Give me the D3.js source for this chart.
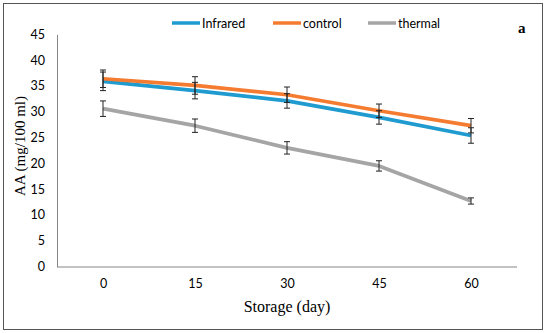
<!DOCTYPE html>
<html><head><meta charset="utf-8">
<script src="https://cdn.jsdelivr.net/npm/d3@7"></script>
<style>body{margin:0;background:#fff}svg{display:block}</style>
</head><body>
<script>
const days = ["0","15","30","45","60"];
const infrared = [35.9, 34.1, 32.1, 28.9, 25.4];
const control = [36.4, 35.1, 33.3, 30.2, 27.3];
const thermal = [30.6, 27.3, 23.0, 19.5, 12.7];
const infraredErr = [1.8, 1.6, 1.4, 1.3, 1.5];
const controlErr = [1.7, 1.7, 1.5, 1.3, 1.4];
const thermalErr = [1.5, 1.3, 1.2, 1.0, 0.6];
const yTicks = [0,5,10,15,20,25,30,35,40,45];
const seriesNames = ["Infrared","control","thermal"];
const colors = ["#1F9BD0","#F47B2F","#A5A5A5"];

(function(){
const W=550,H=333;
const svg=d3.select("body").append("svg").attr("width",W).attr("height",H);
svg.append("rect").attr("x",3.5).attr("y",3.5).attr("width",539).attr("height",326)
  .attr("fill","#fff").attr("stroke","#555").attr("stroke-width",1);

const mL=57,mR=517,mT=34.4,mB=266.5;
const x=d3.scalePoint().domain(days).range([mL,mR]).padding(0.5);
const y=d3.scaleLinear().domain([0,45]).range([mB,mT]);
const sans="Lato, 'Open Sans', sans-serif";

const ya=svg.append("g").attr("transform",`translate(${mL},0)`)
  .call(d3.axisLeft(y).tickValues(yTicks).tickSize(0).tickPadding(12));
ya.select(".domain").attr("stroke","#868686");
ya.selectAll("text").attr("font-family",sans).attr("font-size",12.5).attr("fill","#000");
const xa=svg.append("g").attr("transform",`translate(0,${mB})`)
  .call(d3.axisBottom(x).tickSize(0).tickPadding(13));
xa.select(".domain").attr("stroke","#868686").attr("d",`M${mL},0.5H${mR}`);
xa.selectAll("text").attr("font-family",sans).attr("font-size",12.5).attr("fill","#000");

const data=[infrared,control,thermal];
const errs=[infraredErr,controlErr,thermalErr];
const line=d3.line().x((d,i)=>x(days[i])).y(d=>y(d));
const order=[2,0,1];
order.forEach(k=>{
  svg.append("path").datum(data[k]).attr("d",line).attr("fill","none")
    .attr("stroke",colors[k]).attr("stroke-width",3.7).attr("stroke-linejoin","round");
});
order.forEach(k=>{
  const g=svg.append("g").attr("stroke","#222").attr("stroke-width",1);
  data[k].forEach((v,i)=>{
    const cx=x(days[i]),e=errs[k][i];
    g.append("line").attr("x1",cx).attr("x2",cx).attr("y1",y(v-e)).attr("y2",y(v+e));
    g.append("line").attr("x1",cx-3).attr("x2",cx+3).attr("y1",y(v-e)).attr("y2",y(v-e));
    g.append("line").attr("x1",cx-3).attr("x2",cx+3).attr("y1",y(v+e)).attr("y2",y(v+e));
  });
});

const legX=[172,273,368];
seriesNames.forEach((n,k)=>{
  svg.append("line").attr("x1",legX[k]).attr("x2",legX[k]+28).attr("y1",23).attr("y2",23)
    .attr("stroke",colors[k]).attr("stroke-width",3.5);
  svg.append("text").attr("x",legX[k]+30).attr("y",27.5).text(n)
    .attr("font-family",sans).attr("font-size",12.5).attr("fill","#000");
});
svg.append("text").attr("x",518).attr("y",33).text("a").attr("font-family","'Liberation Serif', serif")
  .attr("font-weight","bold").attr("font-size",15);

svg.append("text").attr("transform","translate(25,146) rotate(-90)").attr("text-anchor","middle")
  .attr("font-family","'Liberation Serif', serif").attr("font-size",15).text("AA  (mg/100 ml)");
svg.append("text").attr("x",287).attr("y",312).attr("text-anchor","middle")
  .attr("font-family","'Liberation Serif', serif").attr("font-size",16).text("Storage (day)");
})();
</script>
</body></html>
